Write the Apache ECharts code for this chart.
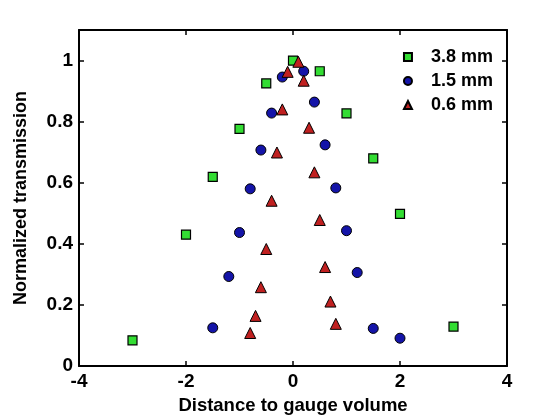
<!DOCTYPE html>
<html>
    <head>
        <meta charset='utf-8'>
        <title>ECharts</title>
        <script src='https://cdn.jsdelivr.net/npm/echarts@6/dist/echarts.min.js'></script>
    </head>

    <body style='margin:0;background:#fff;'>
    <div id='main' style='width: 560px;height:420px;'></div>

    <script type='text/javascript'>
    // 3.8 mm slit
    var x38 = [-3, -2, -1.5, -1, -0.5, 0, 0.5, 1, 1.5, 2, 3];
    var y38 = [0.084, 0.430, 0.619, 0.776, 0.925, 1.0, 0.965, 0.827, 0.680, 0.498, 0.129];
    // 1.5 mm slit
    var x15 = [-1.5, -1.2, -1, -0.8, -0.6, -0.4, -0.2, 0.2, 0.4, 0.6, 0.8, 1, 1.2, 1.5, 2];
    var y15 = [0.125, 0.293, 0.437, 0.580, 0.707, 0.828, 0.946, 0.965, 0.864, 0.724, 0.583, 0.443, 0.306, 0.123, 0.091];
    // 0.6 mm slit
    var x06 = [-0.8, -0.7, -0.6, -0.5, -0.4, -0.3, -0.2, -0.1, 0.1, 0.2, 0.3, 0.4, 0.5, 0.6, 0.7, 0.8];
    var y06 = [0.108, 0.164, 0.258, 0.383, 0.541, 0.699, 0.840, 0.963, 0.996, 0.934, 0.780, 0.634, 0.478, 0.324, 0.211, 0.138];

    var seriesNames = ['3.8 mm', '1.5 mm', '0.6 mm'];

    function pairs(xs, ys) {
        return xs.map(function (x, i) { return [x, ys[i]]; });
    }

    var font = 'Liberation Sans, Arial, sans-serif';
    var axisLine = { show: true, onZero: false, lineStyle: { color: '#000', width: 2 } };
    var tick = { inside: true, length: 5, lineStyle: { color: '#000', width: 1.5 } };

    var myChart = echarts.init(document.getElementById('main'));

    var option = {
        backgroundColor: '#fff',
        animation: false,
        grid: { left: 79, right: 53, top: 30, bottom: 52.5 },
        legend: {
            right: 62,
            top: 43,
            orient: 'vertical',
            itemWidth: 8,
            itemHeight: 8,
            itemGap: 6,
            data: seriesNames,
            textStyle: { fontFamily: font, fontSize: 18, fontWeight: 'bold', color: '#000', padding: [0, 0, 0, 14] }
        },
        xAxis: [{
            type: 'value', min: -4, max: 4, interval: 2,
            name: 'Distance to gauge volume', nameLocation: 'middle', nameGap: 30,
            nameTextStyle: { fontFamily: font, fontSize: 18.5, fontWeight: 'bold', color: '#000' },
            axisLine: axisLine,
            axisTick: tick,
            axisLabel: { fontFamily: font, fontSize: 19, fontWeight: 'bold', color: '#000', margin: 6 },
            splitLine: { show: false }
        }, {
            type: 'value', min: -4, max: 4, interval: 2, position: 'top',
            axisLine: axisLine,
            axisTick: tick,
            axisLabel: { show: false },
            splitLine: { show: false }
        }],
        yAxis: [{
            type: 'value', min: 0, max: 1.1, interval: 0.2,
            name: 'Normalized transmission', nameLocation: 'middle', nameGap: 49,
            nameTextStyle: { fontFamily: font, fontSize: 18, fontWeight: 'bold', color: '#000' },
            axisLine: axisLine,
            axisTick: tick,
            axisLabel: { fontFamily: font, fontSize: 19, fontWeight: 'bold', color: '#000', margin: 6, showMaxLabel: false },
            splitLine: { show: false }
        }, {
            type: 'value', min: 0, max: 1.1, interval: 0.2, position: 'right',
            axisLine: axisLine,
            axisTick: tick,
            axisLabel: { show: false },
            splitLine: { show: false }
        }],
        series: [{
            name: seriesNames[0], type: 'scatter', symbol: 'rect', symbolSize: 9,
            data: pairs(x38, y38),
            itemStyle: { color: '#33dd33', borderColor: '#000', borderWidth: 1.2, opacity: 1 }
        }, {
            name: seriesNames[1], type: 'scatter', symbol: 'circle', symbolSize: 10,
            data: pairs(x15, y15),
            itemStyle: { color: '#1414a8', borderColor: '#000', borderWidth: 1, opacity: 1 }
        }, {
            name: seriesNames[2], type: 'scatter', symbol: 'triangle', symbolSize: 11,
            data: pairs(x06, y06),
            itemStyle: { color: '#c02020', borderColor: '#000', borderWidth: 1, opacity: 1 }
        }]
    };

    myChart.setOption(option);
    </script>
    </body>
</html>
